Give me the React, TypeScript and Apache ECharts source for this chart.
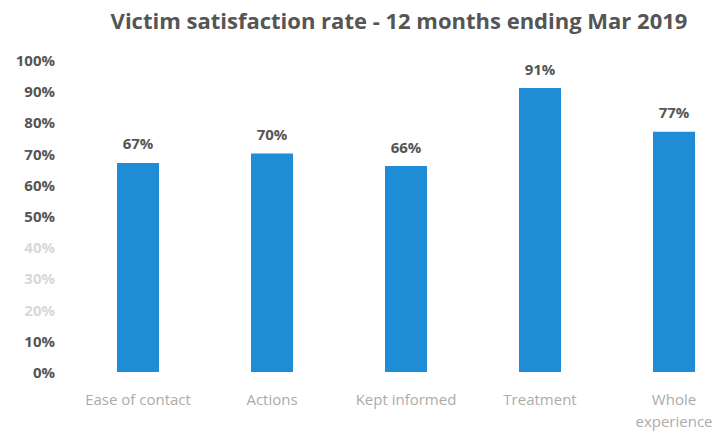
import React, { useEffect, useRef } from "react";
import * as echarts from "echarts";

const categories = ["Ease of contact", "Actions", "Kept informed", "Treatment", "Whole\nexperience"];
const values = [67, 70, 66, 91, 77];
const yTicks = [0, 10, 20, 30, 40, 50, 60, 70, 80, 90, 100];
const fadedTicks = [20, 30, 40];

export default function App() {
  const ref = useRef<HTMLDivElement>(null);
  useEffect(() => {
    document.body.style.margin = "0";
    const chart = echarts.init(ref.current!, null, { renderer: "svg" });
    chart.setOption({
      animation: false,
      backgroundColor: "#ffffff",
      title: {
        text: "Victim satisfaction rate - 12 months ending Mar 2019",
        left: 394,
        textAlign: "center",
        top: 4,
        textStyle: { fontFamily: "Open Sans", fontWeight: "bold", fontSize: 22, color: "#555555" },
      },
      grid: { left: 71, right: 19, top: 60, bottom: 63 },
      xAxis: {
        type: "category",
        data: categories,
        axisLine: { show: false },
        axisTick: { show: false },
        axisLabel: {
          margin: 16,
          fontFamily: "Open Sans",
          fontSize: 15,
          color: "#ababab",
          lineHeight: 22,
          interval: 0,
        },
      },
      yAxis: {
        type: "value",
        min: yTicks[0],
        max: yTicks[yTicks.length - 1],
        interval: 10,
        splitLine: { show: false },
        axisLine: { show: false },
        axisTick: { show: false },
        axisLabel: {
          margin: 16,
          fontFamily: "Open Sans",
          fontWeight: "bold",
          fontSize: 15,
          formatter: (v: number) => v + "%",
          color: (v: any) => (fadedTicks.includes(Number(v)) ? "#d8d8d8" : "#555555"),
        },
      },
      series: [
        {
          type: "bar",
          data: values,
          barWidth: 42,
          itemStyle: { color: "#1f8dd6" },
          label: {
            show: true,
            position: "top",
            distance: 12,
            formatter: "{c}%",
            fontFamily: "Open Sans",
            fontWeight: "bold",
            fontSize: 15,
            color: "#555555",
          },
        },
      ],
    });
    return () => chart.dispose();
  }, []);
  return (
    <div style={{ width: 717, height: 435, overflow: "hidden", position: "relative" }}>
      <div ref={ref} style={{ width: 760, height: 435 }} />
    </div>
  );
}
